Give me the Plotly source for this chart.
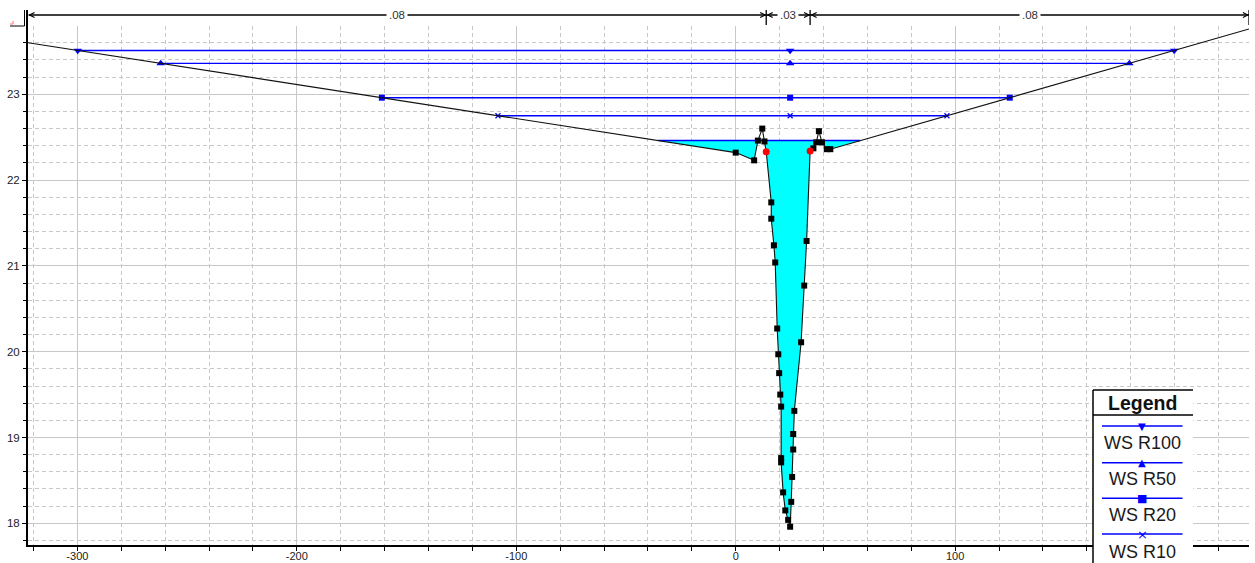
import numpy as np
import plotly.graph_objects as go

# ---- cross-section data -------------------------------------------------
ground_station = [-322.5, 0.0, 8.4, 10.1, 12.1, 13.1, 13.9, 16.2, 16.2, 17.4,
                  18.0, 18.9, 19.4, 19.8, 20.3, 20.7, 20.7, 20.7, 21.6, 22.6,
                  23.9, 24.8, 25.3, 25.7, 26.2, 26.2, 26.7, 29.8, 31.2, 32.3,
                  33.9, 35.4, 36.7, 37.9, 39.3, 41.5, 43.1, 233.9]
ground_elev = [23.60, 22.32, 22.23, 22.46, 22.60, 22.45, 22.33, 21.74, 21.55, 21.24,
               21.04, 20.27, 19.97, 19.75, 19.50, 19.36, 18.76, 18.71, 18.36, 18.15,
               18.04, 17.96, 18.25, 18.54, 18.86, 19.04, 19.31, 20.11, 20.77, 21.29,
               22.34, 22.37, 22.44, 22.57, 22.44, 22.36, 22.36, 23.76]

bank_stations = [13.9, 33.9]
mannings_n = [".08", ".03", ".08"]

ws_names = ["WS R100", "WS R50", "WS R20", "WS R10"]
ws_elev = [23.51, 23.36, 22.96, 22.75]
ws_symbols = ["triangle-down", "triangle-up", "square", "x-thin"]
legend_glyphs = ["\u25BC", "\u25B2", "\u25A0", "\u00D7"]
current_ws = 22.46

x_ticks = [-300, -200, -100, 0, 100]
minor_x_ticks_step = 20
y_ticks = [18, 19, 20, 21, 22, 23]

# ---- layout geometry ----------------------------------------------------
W, H = 1255, 563
ML, MR, MT, MB = 28, 6, 26, 18
X_RANGE = [-322.5, 233.9]
Y_RANGE = [17.747, 23.7956]
plot_w = W - ML - MR
plot_h = H - MT - MB
px_per_x = plot_w / (X_RANGE[1] - X_RANGE[0])


def paper_x(px):
    return (px - ML) / plot_w


def paper_y(py):
    return (H - MB - py) / plot_h


xs = np.array(ground_station)
ys = np.array(ground_elev)
thalweg = float(xs[np.argmin(ys)])


def wet_extent(level):
    cross = []
    for i in range(len(xs) - 1):
        d0, d1 = ys[i] - level, ys[i + 1] - level
        if d0 == 0:
            cross.append(xs[i])
        if d0 * d1 < 0:
            cross.append(xs[i] + (xs[i + 1] - xs[i]) * d0 / (d0 - d1))
    return min(cross), max(cross)


def wetted_polygon(level):
    left, right = wet_extent(level)
    px, py = [left], [level]
    for i in range(len(xs) - 1):
        if left < xs[i] < right:
            px.append(xs[i])
            py.append(min(ys[i], level))
        d0, d1 = ys[i] - level, ys[i + 1] - level
        if d0 * d1 < 0:
            xc = xs[i] + (xs[i + 1] - xs[i]) * d0 / (d0 - d1)
            if left < xc < right:
                px.append(xc)
                py.append(level)
    px.append(right)
    py.append(level)
    return px, py


BLUE = "#0000FF"
fig = go.Figure()

# water area of the computed profile
fx, fy = wetted_polygon(current_ws)
fig.add_trace(go.Scatter(x=fx, y=fy, mode="lines", fill="toself",
                         fillcolor="#00FFFF", line=dict(width=0),
                         hoverinfo="skip"))
l0, r0 = wet_extent(current_ws)
fig.add_trace(go.Scatter(x=[l0, r0], y=[current_ws, current_ws], mode="lines",
                         line=dict(color=BLUE, width=1.5)))

# water surface profiles
for name, lev, sym in zip(ws_names, ws_elev, ws_symbols):
    l, r = wet_extent(lev)
    if sym == "x-thin":
        mk = dict(symbol=sym, size=5, color=BLUE, line=dict(color=BLUE, width=1.2))
    elif sym == "square":
        mk = dict(symbol=sym, size=6, color=BLUE)
    else:
        mk = dict(symbol=sym, size=7.5, color=BLUE)
    fig.add_trace(go.Scatter(x=[l, thalweg, r], y=[lev, lev, lev], name=name,
                             mode="lines+markers",
                             line=dict(color=BLUE, width=1.4), marker=mk))

# ground profile
fig.add_trace(go.Scatter(x=ground_station, y=ground_elev, mode="lines",
                         line=dict(color="#111111", width=1.1)))
pts = [(s, e) for s, e in zip(ground_station[1:-1], ground_elev[1:-1])
       if s not in bank_stations]
fig.add_trace(go.Scatter(x=[p[0] for p in pts], y=[p[1] for p in pts],
                         mode="markers",
                         marker=dict(symbol="square", size=6, color="black")))
bank_elev = [float(np.interp(b, xs, ys)) for b in bank_stations]
fig.add_trace(go.Scatter(x=bank_stations, y=bank_elev, mode="markers",
                         marker=dict(symbol="circle", size=7, color="#FF0000")))

# ---- Manning's n dimension line above the section ----------------------
shapes = []
annotations = []
dim_y = paper_y(15)
mark_top, mark_bot = paper_y(10), paper_y(25)
ah_len = 5 / px_per_x
ah_h = 2.5 / plot_h
bounds = [ground_station[0], bank_stations[0], bank_stations[1], ground_station[-1]]

shapes.append(dict(type="line", xref="x", yref="paper", x0=bounds[0] + 0.3, x1=bounds[-1],
                   y0=dim_y, y1=dim_y, line=dict(color="black", width=1.3)))
for b in bounds[1:]:
    shapes.append(dict(type="line", xref="x", yref="paper", x0=b, x1=b,
                       y0=mark_top, y1=mark_bot, line=dict(color="black", width=1.3)))
for i in range(3):
    a, b = bounds[i], bounds[i + 1]
    ta = a + 0.7
    tb = b - 0.5
    shapes.append(dict(type="path", xref="x", yref="paper",
                       path=f"M {ta + ah_len},{dim_y + ah_h} L {ta},{dim_y} L {ta + ah_len},{dim_y - ah_h}",
                       line=dict(color="black", width=1.2)))
    shapes.append(dict(type="path", xref="x", yref="paper",
                       path=f"M {tb - ah_len},{dim_y + ah_h} L {tb},{dim_y} L {tb - ah_len},{dim_y - ah_h}",
                       line=dict(color="black", width=1.2)))
    annotations.append(dict(x=(a + b) / 2, y=dim_y, xref="x", yref="paper",
                            text=mannings_n[i], showarrow=False, bgcolor="white",
                            borderpad=2, xanchor="center", yanchor="middle",
                            font=dict(family="Arial", size=11.5, color="#333333")))

# corner marks at the top of the elevation axis
shapes.append(dict(type="line", xref="paper", yref="paper", x0=paper_x(27), x1=paper_x(27),
                   y0=paper_y(10), y1=1, line=dict(color="black", width=2)))
shapes.append(dict(type="line", xref="paper", yref="paper", x0=paper_x(24.5), x1=paper_x(24.5),
                   y0=paper_y(10), y1=paper_y(26), line=dict(color="black", width=1)))
shapes.append(dict(type="line", xref="paper", yref="paper", x0=paper_x(10), x1=paper_x(24.5),
                   y0=paper_y(26), y1=paper_y(26), line=dict(color="black", width=1)))
shapes.append(dict(type="path", xref="paper", yref="paper",
                   path=f"M {paper_x(10)},{paper_y(24)} L {paper_x(13)},{paper_y(24)} L {paper_x(13)},{paper_y(21)}",
                   line=dict(color="#FF7070", width=1)))

# ---- legend box ---------------------------------------------------------
LX0, LX1, LTOP, LSEP, LCX = 1093, 1193, 390, 415, 1142
shapes.append(dict(type="rect", xref="paper", yref="paper", layer="above",
                   x0=paper_x(LX0), x1=paper_x(LX1), y0=paper_y(LTOP), y1=paper_y(620),
                   fillcolor="white", line=dict(width=0)))
shapes.append(dict(type="line", xref="paper", yref="paper", layer="above",
                   x0=paper_x(LX0), x1=paper_x(LX1), y0=paper_y(LTOP), y1=paper_y(LTOP),
                   line=dict(color="black", width=1.5)))
shapes.append(dict(type="line", xref="paper", yref="paper", layer="above",
                   x0=paper_x(LX0), x1=paper_x(LX0), y0=paper_y(LTOP), y1=paper_y(620),
                   line=dict(color="black", width=1.5)))
shapes.append(dict(type="line", xref="paper", yref="paper", layer="above",
                   x0=paper_x(LX0), x1=paper_x(LX1), y0=paper_y(LSEP), y1=paper_y(LSEP),
                   line=dict(color="black", width=1.5)))
annotations.append(dict(x=paper_x(LCX), y=paper_y(402.5), xref="paper", yref="paper",
                        text="<b>Legend</b>", showarrow=False, xanchor="center",
                        yanchor="middle", font=dict(family="Arial", size=19.5, color="#111111")))
line_y = [426, 462.7, 498.3, 534]
text_y = [443.3, 479.3, 515, 551.7]
glyph_size = [10, 10, 11, 13]
for name, glyph, gs, ly, ty in zip(ws_names, legend_glyphs, glyph_size, line_y, text_y):
    shapes.append(dict(type="line", xref="paper", yref="paper", layer="above",
                       x0=paper_x(1102), x1=paper_x(1182.5), y0=paper_y(ly), y1=paper_y(ly),
                       line=dict(color=BLUE, width=1.6)))
    annotations.append(dict(x=paper_x(LCX), y=paper_y(ly), xref="paper", yref="paper",
                            text=glyph, showarrow=False, xanchor="center", yanchor="middle",
                            font=dict(family="DejaVu Sans", size=gs, color=BLUE)))
    annotations.append(dict(x=paper_x(LCX), y=paper_y(ty), xref="paper", yref="paper",
                            text=name, showarrow=False, xanchor="center", yanchor="middle",
                            font=dict(family="Arial", size=18, color="#1a1a1a")))

grid_col = "#c8c8c8"
fig.update_layout(
    width=W, height=H, margin=dict(l=ML, r=MR, t=MT, b=MB, autoexpand=False),
    paper_bgcolor="white", plot_bgcolor="white", showlegend=False,
    shapes=shapes, annotations=annotations,
    xaxis=dict(range=X_RANGE, tickmode="array", tickvals=x_ticks,
               ticktext=[str(v) for v in x_ticks], automargin=False,
               ticks="outside", ticklen=4, tickwidth=1, tickcolor="black",
               ticklabelstandoff=-4,
               showgrid=True, gridcolor=grid_col, gridwidth=1,
               showline=True, linecolor="black", linewidth=2, zeroline=False,
               minor=dict(tickmode="linear", tick0=0, dtick=minor_x_ticks_step,
                          ticks="outside", ticklen=4,
                          tickcolor="black", showgrid=True, gridcolor=grid_col,
                          griddash="4px,3px", gridwidth=1),
               tickfont=dict(family="Arial", size=11, color="#222222")),
    yaxis=dict(range=Y_RANGE, tickmode="array", tickvals=y_ticks,
               ticktext=[str(v) for v in y_ticks], automargin=False,
               ticks="outside", ticklen=4, tickwidth=1, tickcolor="black",
               showgrid=True, gridcolor=grid_col, gridwidth=1,
               showline=True, linecolor="black", linewidth=2, zeroline=False,
               minor=dict(tickmode="linear", tick0=0, dtick=0.2, ticks="outside", ticklen=3,
                          tickcolor="black", showgrid=True, gridcolor=grid_col,
                          griddash="4px,3px", gridwidth=1),
               tickfont=dict(family="Arial", size=11.5, color="#222222")),
)

fig.write_html("out.html")
